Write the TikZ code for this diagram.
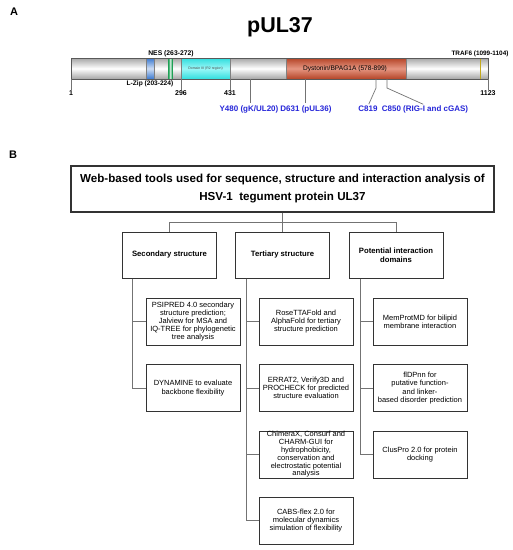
\documentclass[tikz,border=0pt]{standalone}
\usepackage{fontspec}
\setmainfont{Liberation Sans}
\usetikzlibrary{positioning,calc}
\definecolor{cpBlue}{HTML}{2626D9}
\definecolor{cpLzip}{HTML}{3A78CF}
\definecolor{cpNes}{HTML}{1FA055}
\definecolor{cpDom}{HTML}{22EEEE}
\definecolor{cpDys}{HTML}{D4502E}
\definecolor{cpTraf}{HTML}{C2A81C}

\begin{document}
\begin{tikzpicture}[x=1pt,y=-1pt,every node/.style={inner sep=0pt},
  wire/.style={draw=black!55,line width=0.7pt},
  toolbox/.style={draw=black!80,line width=1.1pt,minimum width=423pt,minimum height=46pt,
    align=center,font=\bfseries\fontsize{11.6}{18}\selectfont},
  catbox/.style={draw=black!80,line width=1pt,minimum width=94pt,minimum height=46pt,
    align=center,font=\bfseries\fontsize{7.7}{9}\selectfont},
  leafbox/.style={draw=black!80,line width=1pt,minimum width=94pt,minimum height=47pt,
    align=center,font=\fontsize{7.5}{8.2}\selectfont},
  resnum/.style={font=\bfseries\fontsize{7}{8}\selectfont},
  site/.style={font=\bfseries\fontsize{8}{9}\selectfont,text=cpBlue}]
  \useasboundingbox (0,0) rectangle (513,550);
  \fill[white] (0,0) rectangle (513,550);

  % A: domain map of pUL37
  \node[font=\bfseries\fontsize{11}{13}\selectfont] (labA) at (14,12) {A};
  \node[font=\bfseries\fontsize{21.5}{26}\selectfont] (title) at (280,27) {pUL37};
  \shade[top color=gray!70,bottom color=gray!70,middle color=white] (71,58) rectangle (488,79);
  \shade[top color=cpLzip,bottom color=cpLzip,middle color=cpLzip!25,draw=black!50] (146,58) rectangle (154,79);
  \shade[left color=cpNes,right color=cpNes,middle color=cpNes!15,draw=cpNes] (168.5,58) rectangle (172,79);
  \shade[top color=cpDom!85!gray,bottom color=cpDom!85!gray,middle color=cpDom!45,draw=black!50] (181,58) rectangle (230,79);
  \shade[top color=cpDys!85!black,bottom color=cpDys!85!black,middle color=cpDys!60,draw=black!50] (286,58) rectangle (406,79);
  \draw[cpTraf,line width=1pt] (480,58) -- (480,79);
  \draw[black!65,line width=0.6pt] (71,58) rectangle (488,79);
  \node[font=\fontsize{3.5}{4}\selectfont,text=black!70] (dom3) at (205.5,68.5) {Domain III (R2 region)};
  \node[font=\fontsize{6.6}{7}\selectfont] (dys) at (345,69) {Dystonin/BPAG1A (578-899)};
  \node[font=\bfseries\fontsize{6.8}{7}\selectfont] (nes) at (171,54) {NES (263-272)};
  \node[font=\bfseries\fontsize{6.6}{7}\selectfont] (lzip) at (150,84) {L-Zip (203-224)};
  \node[font=\bfseries\fontsize{6.4}{7}\selectfont] (traf) at (480,54) {TRAF6 (1099-1104)};

  % residue numbers
  \node[resnum] (p1) at (71,93) {1};
  \node[resnum] (p296) at (181,93) {296};
  \node[resnum] (p431) at (230,93) {431};
  \node[resnum] (p1123) at (488,93) {1123};
  \draw[wire] (71,79) -- (p1.north);
  \draw[wire] (181,79) -- (p296.north);
  \draw[wire] (230,79) -- (p431.north);
  \draw[wire] (488,79) -- (p1123.north);

  % binding sites
  \node[site] (y480) at (249,109) {Y480 (gK/UL20)};
  \node[site] (d631) at (306,109) {D631 (pUL36)};
  \node[site] (c819) at (368,109) {C819};
  \node[site] (c850) at (425,109) {C850 (RIG-I and cGAS)};
  \draw[wire,shorten >=2pt] (250,79) -- (250,79 |- y480.north);
  \draw[wire,shorten >=2pt] (305,79) -- (305,79 |- d631.north);
  \draw[wire,shorten >=2pt] (376,79) -- (376,88) -- (c819.north);
  \draw[wire,shorten >=2pt] (387,79) -- (387,88) -- (c850.north);

  % B: tool overview
  \node[font=\bfseries\fontsize{11}{13}\selectfont] (labB) at (13,155) {B};
  \node[toolbox] (tools) at (282.5,189) {Web-based tools used for sequence, structure and interaction analysis of\\HSV-1~ tegument protein UL37};
  \node[catbox] (sec) at (169.5,255) {Secondary structure};
  \node[catbox] (ter) at (282.5,255) {Tertiary structure};
  \node[catbox] (pot) at (396,255) {Potential interaction\\domains};
  \draw[wire] (tools.south) -- ++(0,10) coordinate (fork) -| (sec.north);
  \draw[wire] (fork) -| (pot.north);
  \draw[wire] (fork) -- (ter.north);

  \node[leafbox] (psipred) at (193,321.5) {PSIPRED 4.0 secondary\\structure prediction;\\Jalview for MSA and\\IQ-TREE for phylogenetic\\tree analysis};
  \node[leafbox] (dynamine) at (193,388) {DYNAMINE to evaluate\\backbone flexibility};
  \node[leafbox] (rosetta) at (306,321.5) {RoseTTAFold and\\AlphaFold for tertiary\\structure prediction};
  \node[leafbox] (errat) at (306,388) {ERRAT2, Verify3D and\\PROCHECK for predicted\\structure evaluation};
  \node[leafbox,font=\fontsize{7.5}{7.8}\selectfont] (chimera) at (306,454.5) {ChimeraX, Consurf and\\CHARM-GUI for\\hydrophobicity,\\conservation and\\electrostatic potential\\analysis};
  \node[leafbox] (cabs) at (306,520.5) {CABS-flex 2.0 for\\molecular dynamics\\simulation of flexibility};
  \node[leafbox] (memprot) at (420,321.5) {MemProtMD for bilipid\\membrane interaction};
  \node[leafbox] (fldpnn) at (420,388) {flDPnn for\\putative function-\\and linker-\\based disorder prediction};
  \node[leafbox] (cluspro) at (420,454.5) {ClusPro 2.0 for protein\\docking};

  \draw[wire] ([xshift=-37.5pt]sec.south) |- (psipred.west);
  \draw[wire] ([xshift=-37.5pt]sec.south) |- (dynamine.west);
  \draw[wire] ([xshift=-36.5pt]ter.south) |- (rosetta.west);
  \draw[wire] ([xshift=-36.5pt]ter.south) |- (errat.west);
  \draw[wire] ([xshift=-36.5pt]ter.south) |- (chimera.west);
  \draw[wire] ([xshift=-36.5pt]ter.south) |- (cabs.west);
  \draw[wire] ([xshift=-36pt]pot.south) |- (memprot.west);
  \draw[wire] ([xshift=-36pt]pot.south) |- (fldpnn.west);
  \draw[wire] ([xshift=-36pt]pot.south) |- (cluspro.west);
\end{tikzpicture}
\end{document}
